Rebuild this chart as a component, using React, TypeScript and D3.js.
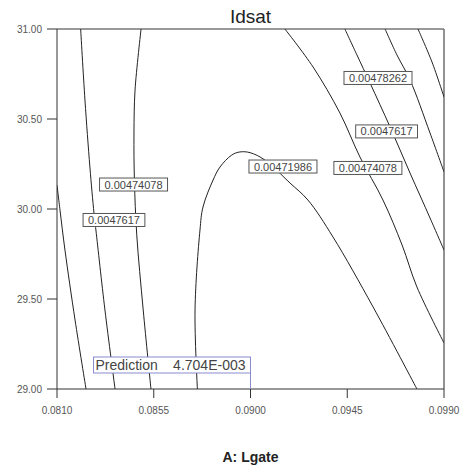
import React from "react";
import * as d3 from "d3";

const W = 463;
const H = 472;

const xTicks = [0.081, 0.0855, 0.09, 0.0945, 0.099];
const yTicks = [29.0, 29.5, 30.0, 30.5, 31.0];

const chartTitle = "Idsat";
const xAxisTitle = "A: Lgate";

// contour polylines, in [Lgate, y] data units
const contourLeftA: [number, number][] = [
  [0.081, 30.133], [0.08114, 29.994], [0.08137, 29.772], [0.08184, 29.383], [0.08235, 29.0],
];
const contourLeftB: [number, number][] = [
  [0.0821, 31.0], [0.0823, 30.606], [0.08253, 30.233], [0.08272, 29.978], [0.08281, 29.883], [0.08323, 29.439], [0.0837, 29.0],
];
const contourLeftC: [number, number][] = [
  [0.08491, 31.0], [0.08463, 30.661], [0.08458, 30.422], [0.0846, 30.161], [0.08471, 29.856], [0.08501, 29.439], [0.08537, 29.0],
];
const contourArch: [number, number][] = [
  [0.08753, 29.0], [0.08742, 29.439], [0.08765, 29.883], [0.08779, 30.011], [0.08826, 30.161], [0.08858, 30.233],
  [0.08913, 30.3], [0.08951, 30.317], [0.08998, 30.313], [0.09067, 30.272], [0.09184, 30.144], [0.09267, 30.05],
  [0.09384, 29.844], [0.0957, 29.456], [0.09774, 29.0],
];
const contourRightE: [number, number][] = [
  [0.0916, 31.0], [0.09291, 30.789], [0.09416, 30.533], [0.09509, 30.289], [0.09616, 30.05], [0.09705, 29.8], [0.09774, 29.567], [0.099, 29.256],
];
const contourRightF: [number, number][] = [
  [0.09439, 31.0], [0.09495, 30.856], [0.09556, 30.7], [0.09649, 30.456], [0.09742, 30.2], [0.09835, 29.95], [0.099, 29.772],
];
const contourRightG: [number, number][] = [
  [0.09626, 31.0], [0.09681, 30.856], [0.09742, 30.717], [0.09835, 30.422], [0.099, 30.206],
];
const contourRightH: [number, number][] = [
  [0.09779, 31.0], [0.09844, 30.817], [0.099, 30.622],
];

const contours = [contourLeftA, contourLeftB, contourLeftC, contourArch, contourRightE, contourRightF, contourRightG, contourRightH];

// contour labels: text and center position in data units
const labelTexts = ["0.00478262", "0.0047617", "0.00474078", "0.00471986", "0.00474078", "0.0047617"];
const labelX = [0.09593, 0.09633, 0.09546, 0.09151, 0.08456, 0.08365];
const labelY = [30.728, 30.431, 30.228, 30.236, 30.136, 29.939];

const predictionText = "Prediction";
const predictionValue = "4.704E-003";
const predictionPoint: [number, number] = [0.09, 29.0];

const FONT = "'Liberation Sans', Arial, sans-serif";

export default function App() {
  const left = 57;
  const right = 444;
  const top = 29;
  const bottom = 389;

  const x = d3.scaleLinear().domain([0.081, 0.099]).range([left, right]);
  const y = d3.scaleLinear().domain([29, 31]).range([bottom, top]);

  const line = d3
    .line<[number, number]>()
    .x((d) => x(d[0]))
    .y((d) => y(d[1]))
    .curve(d3.curveCatmullRom.alpha(0.5));

  const px = x(predictionPoint[0]);
  const py = y(predictionPoint[1]);
  const boxW = 157;
  const boxH = 16;
  const boxBottom = py - 16;

  return (
    <svg
      width={W}
      height={H}
      style={{ position: "absolute", left: 0, top: 0, background: "#fff" }}
      fontFamily={FONT}
    >
      <rect x={0} y={0} width={W} height={H} fill="#fff" />
      <defs>
        <clipPath id="plotClip">
          <rect x={left} y={top} width={right - left} height={bottom - top} />
        </clipPath>
      </defs>

      <text x={(left + right) / 2} y={23} textAnchor="middle" fontSize={19} fill="#222">
        {chartTitle}
      </text>

      {/* frame */}
      <line x1={left} y1={top} x2={right} y2={top} stroke="#777" strokeWidth={1.3} />
      <line x1={right} y1={top} x2={right} y2={bottom} stroke="#777" strokeWidth={1.6} />
      <line x1={left} y1={top} x2={left} y2={bottom} stroke="#333" strokeWidth={1} />
      <line x1={left} y1={bottom} x2={right} y2={bottom} stroke="#333" strokeWidth={1} />

      {/* contours */}
      <g clipPath="url(#plotClip)">
        {contours.map((c, i) => (
          <path key={i} d={line(c) || ""} fill="none" stroke="#222" strokeWidth={1} />
        ))}
      </g>

      {/* y ticks */}
      {yTicks.map((t) => (
        <g key={"y" + t}>
          <line x1={left - 10} x2={left} y1={y(t)} y2={y(t)} stroke="#333" strokeWidth={1} />
          <text x={42} y={y(t) + 3.5} textAnchor="end" fontSize={10} fill="#555">
            {t.toFixed(2)}
          </text>
        </g>
      ))}

      {/* x ticks */}
      {xTicks.map((t) => (
        <g key={"x" + t}>
          <line x1={x(t)} x2={x(t)} y1={bottom} y2={bottom + 9} stroke="#333" strokeWidth={1} />
          <text x={x(t)} y={414} textAnchor="middle" fontSize={10} fill="#555">
            {t.toFixed(4)}
          </text>
        </g>
      ))}

      <text x={(left + right) / 2} y={462} textAnchor="middle" fontSize={14} fontWeight="bold" fill="#222">
        {xAxisTitle}
      </text>

      {/* contour labels */}
      {labelTexts.map((t, i) => {
        const cx = x(labelX[i]);
        const cy = y(labelY[i]);
        const w = t.length * 6.2 + 6;
        return (
          <g key={"l" + i}>
            <rect x={cx - w / 2} y={cy - 6.5} width={w} height={13} fill="#fff" stroke="#555" strokeWidth={1} />
            <text x={cx} y={cy + 4} textAnchor="middle" fontSize={11} fill="#444">
              {t}
            </text>
          </g>
        );
      })}

      {/* prediction flag */}
      <line x1={px} x2={px} y1={boxBottom} y2={py} stroke="#8a8ad0" strokeWidth={1} />
      <rect x={px - boxW} y={boxBottom - boxH} width={boxW} height={boxH} fill="#fff" stroke="#8a8ad0" strokeWidth={1} />
      <text x={px - boxW + 2} y={boxBottom - 3} fontSize={14} fill="#444">
        {predictionText}
      </text>
      <text x={px - 5} y={boxBottom - 3} textAnchor="end" fontSize={14} fill="#444">
        {predictionValue}
      </text>
    </svg>
  );
}
